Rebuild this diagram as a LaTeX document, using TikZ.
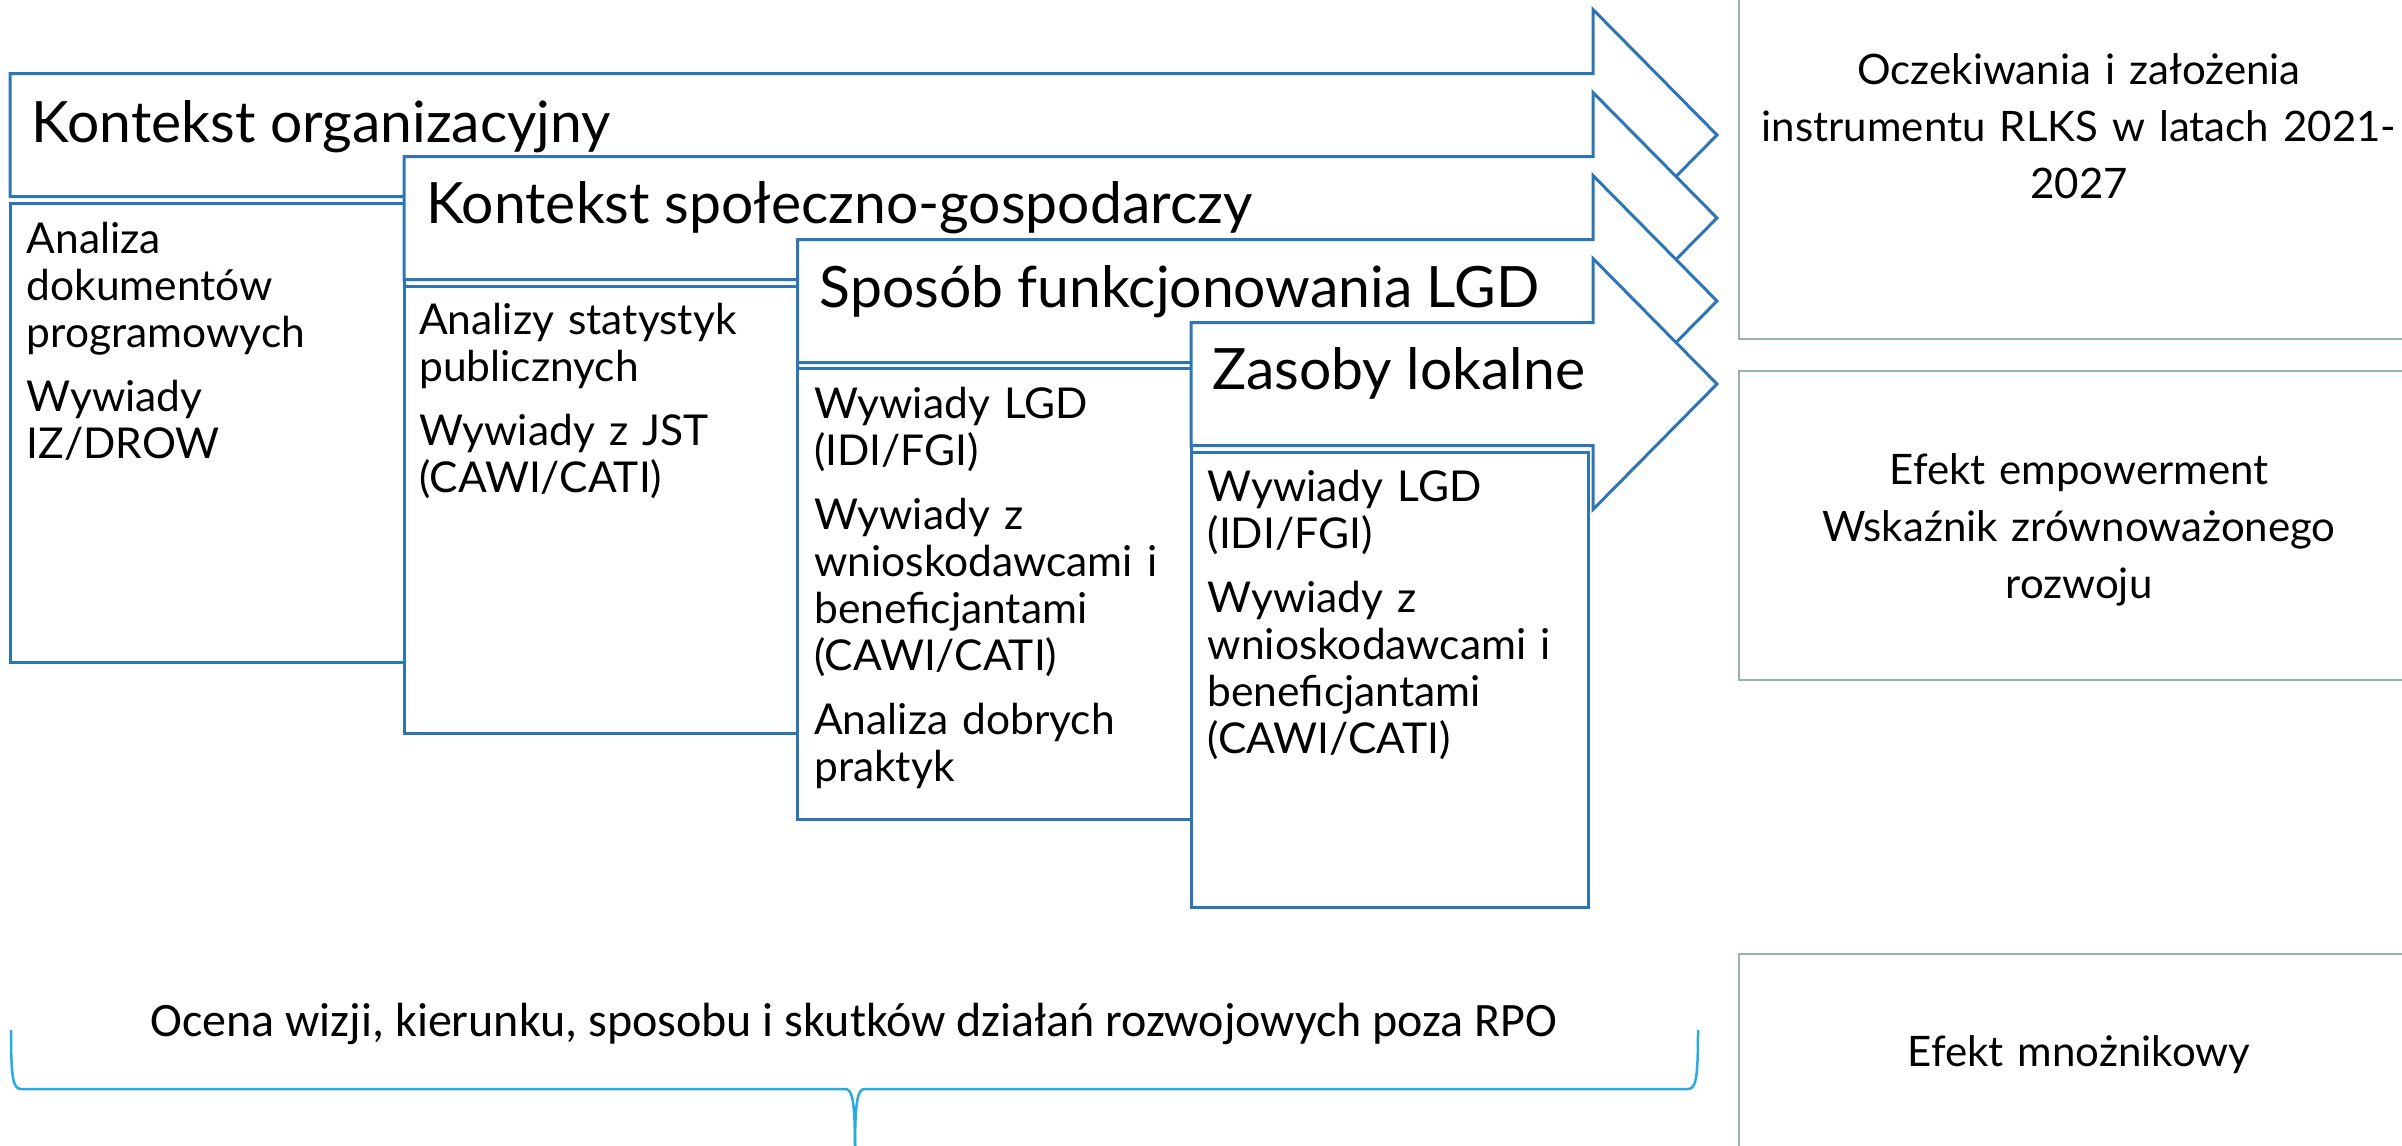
\documentclass[tikz,border=0pt]{standalone}
\usepackage{fontspec}
\setmainfont{Lato}
\newfontfamily\calibfont{Carlito}
\definecolor{arrowblue}{RGB}{46,117,182}
\definecolor{boxgray}{RGB}{150,178,180}
\definecolor{bracecol}{RGB}{41,171,226}
\begin{document}
\begin{tikzpicture}[x=1pt,y=-1pt,line join=miter,
  arr/.style={draw=arrowblue,line width=3pt,fill=white},
  srcbox/.style={draw=arrowblue,line width=3pt,fill=white},
  effbox/.style={draw=boxgray,line width=2pt,fill=white},
  hdr/.style={anchor=base west,inner sep=0pt,font=\fontsize{57}{68}\selectfont},
  body/.style={anchor=base west,inner sep=0pt,text width=370pt,align=left,font=\fontsize{42.5}{47}\selectfont},
  eff/.style={anchor=base,inner sep=0pt,text width=660pt,align=center,font=\fontsize{42}{57}\selectfont}]
\useasboundingbox (0,0) rectangle (2402,1146);
\fill[white] (0,0) rectangle (2402,1146);
\clip (0,0) rectangle (2402,1146);
% right boxes
\draw[effbox] (1739,-10) rectangle (2430,339);
\draw[effbox] (1739,371) rectangle (2430,680);
\draw[effbox] (1739,954) rectangle (2430,1170);
\node[eff] (e1) at (2079,84) {Oczekiwania i założenia\\instrumentu RLKS w latach 2021-\\2027};
\node[eff] (e2) at (2079,484) {Efekt empowerment\\Wskaźnik zrównoważonego\\rozwoju};
\node[eff] (e3) at (2079,1066) {Efekt mnożnikowy};
% arrow 1
\draw[arr] (10,73.5) -- (1593,73.5) -- (1593,9.5) -- (1717,135) -- (1593,260.5) -- (1593,196.5) -- (10,196.5) -- cycle;
\node[hdr] (h1) at (31.6,142) {Kontekst organizacyjny};
\draw[srcbox] (10,203) rectangle (404,662);
\node[body] (b1) at (26.5,253) {Analiza\\dokumentów\\programowych\\[17pt]Wywiady\\IZ/DROW};
% arrow 2
\draw[arr] (404,156.5) -- (1593,156.5) -- (1593,92.5) -- (1717,218) -- (1593,343.5) -- (1593,279.5) -- (404,279.5) -- cycle;
\node[hdr] (h2) at (426,223) {Kontekst społeczno-gospodarczy};
\draw[srcbox] (404,286) rectangle (797.5,733);
\node[body] (b2) at (419,334.5) {Analizy statystyk\\publicznych\\[17pt]Wywiady z JST\\(CAWI/CATI)};
% arrow 3
\draw[arr] (797.5,239.5) -- (1593,239.5) -- (1593,175.5) -- (1717,301) -- (1593,426.5) -- (1593,362.5) -- (797.5,362.5) -- cycle;
\node[hdr] (h3) at (819.5,307) {Sposób funkcjonowania LGD};
\draw[srcbox] (797.5,368) rectangle (1191,819);
\node[body] (b3) at (814,418.5) {Wywiady LGD\\(IDI/FGI)\\[17pt]Wywiady z\\wnioskodawcami i\\beneficjantami\\(CAWI/CATI)\\[17pt]Analiza dobrych\\praktyk};
% arrow 4
\draw[arr] (1191,322.5) -- (1593,322.5) -- (1593,258.5) -- (1717,384) -- (1593,509.5) -- (1593,445.5) -- (1191,445.5) -- cycle;
\node[hdr] (h4) at (1212,389.5) {Zasoby lokalne};
\draw[srcbox] (1191,452) rectangle (1588,907);
\node[body] (b4) at (1207.5,501) {Wywiady LGD\\(IDI/FGI)\\[17pt]Wywiady z\\wnioskodawcami i\\beneficjantami\\(CAWI/CATI)};
% brace
\draw[bracecol,line width=2.5pt,line join=round]
  (11,1030) .. controls (11,1078) and (13,1089) .. (21,1089) -- (845,1089)
  .. controls (852,1089) and (855,1098) .. (855,1150);
\draw[bracecol,line width=2.5pt,line join=round]
  (1698,1030) .. controls (1698,1078) and (1696,1089) .. (1688,1089) -- (865,1089)
  .. controls (858,1089) and (855,1098) .. (855,1150);
\node[anchor=base,inner sep=0pt,font=\calibfont\fontsize{48}{58}\selectfont] (ocena) at (854,1036) {Ocena wizji, kierunku, sposobu i skutków działań rozwojowych poza RPO};
\end{tikzpicture}
\end{document}
